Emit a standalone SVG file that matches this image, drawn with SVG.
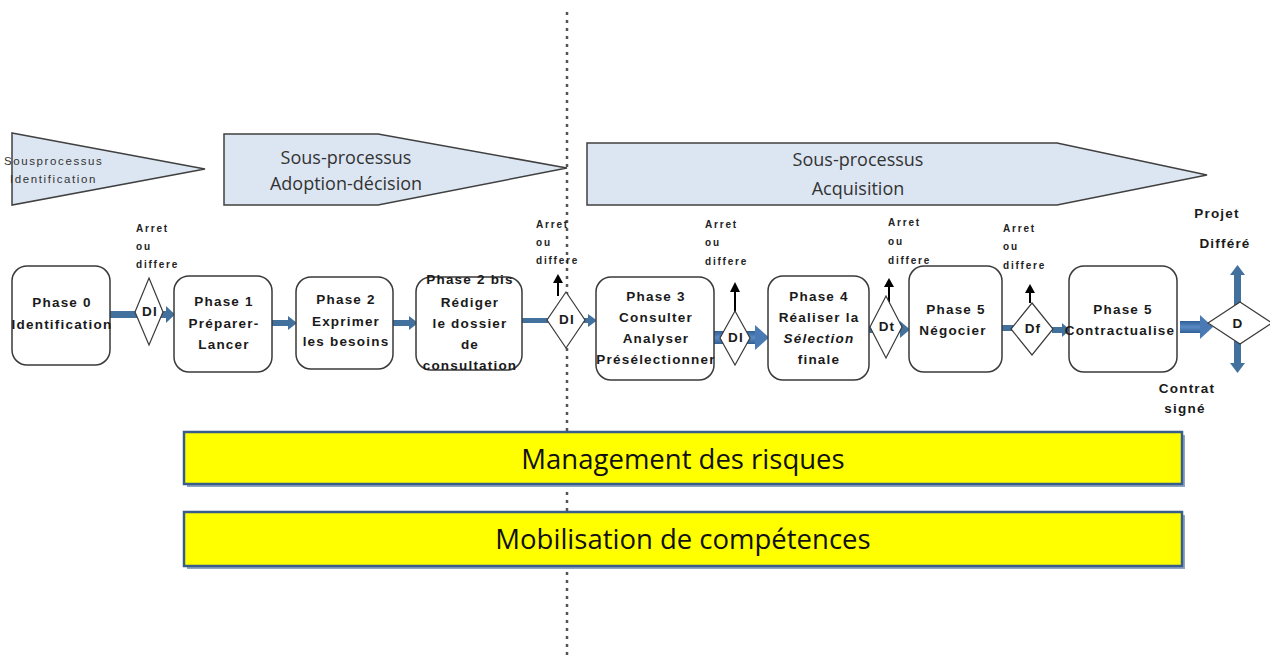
<svg xmlns="http://www.w3.org/2000/svg" width="1270" height="655" viewBox="0 0 1270 655">
<style>
.bg{fill:#ffffff}
.box{fill:#ffffff;stroke:#3a3a3a;stroke-width:1.5}
.dia{fill:#ffffff;stroke:#3a3a3a;stroke-width:1.2}
.pen{fill:#dce6f2;stroke:#404040;stroke-width:1.5}
.bar{fill:#ffff00;stroke:#385d8a;stroke-width:2.5}
.barsh{fill:#8ea5c4}
.t{font-family:"Liberation Sans",Arial,sans-serif;font-weight:bold;font-size:13.5px;fill:#1a1a1a;text-anchor:middle;letter-spacing:1.2px}
.tiny{font-family:"Liberation Sans",Arial,sans-serif;font-weight:bold;font-size:10px;fill:#222;letter-spacing:1.8px}
.pt{font-family:"Open Sans","Liberation Sans",sans-serif;font-size:18px;fill:#333;text-anchor:middle}
.pts{font-family:"Liberation Sans",Arial,sans-serif;font-size:11.5px;fill:#333;letter-spacing:1.6px}
.yt{font-family:"Open Sans","Liberation Sans",sans-serif;font-size:27.5px;fill:#111;text-anchor:middle}
.flow{fill:#41719c}
.blk{stroke:#000;stroke-width:2;fill:none}
</style>
<defs>
<linearGradient id="bg1" x1="0" y1="0" x2="0" y2="1">
<stop offset="0" stop-color="#2f5f96"/><stop offset="0.5" stop-color="#5a8bc4"/><stop offset="1" stop-color="#2f5f96"/>
</linearGradient>
</defs>
<rect class="bg" x="0" y="0" width="1270" height="655"/>

<!-- dotted separator -->
<line x1="567" y1="12" x2="567" y2="655" stroke="#555" stroke-width="2.5" stroke-dasharray="3,5"/>

<!-- pennants -->
<g id="sp-identification">
<polygon class="pen" points="12,133 205,169 12,205"/>
<text class="pts" x="4" y="165">Sousprocessus</text>
<text class="pts" x="10" y="183">Identification</text>
</g>
<g id="sp-adoption">
<polygon class="pen" points="224,134 378,134 567,168 378,205 224,205"/>
<text class="pt" x="346" y="164">Sous-processus</text>
<text class="pt" x="346" y="190">Adoption-décision</text>
</g>
<g id="sp-acquisition">
<polygon class="pen" points="587,143 1057,143 1207,175 1057,205 587,205"/>
<text class="pt" x="858" y="166">Sous-processus</text>
<text class="pt" x="858" y="195">Acquisition</text>
</g>

<!-- connectors -->
<g id="connectors">
<rect class="flow" x="110" y="311" width="58" height="7"/>
<polygon class="flow" points="166,306 175,314.5 166,323"/>
<rect class="flow" x="272" y="320" width="18" height="6"/>
<polygon class="flow" points="288,316 297,323 288,330"/>
<rect class="flow" x="393" y="320" width="18" height="6"/>
<polygon class="flow" points="409,316 418,323 409,330"/>
<rect class="flow" x="522" y="318" width="68" height="5"/>
<polygon class="flow" points="588,314 597,320.5 588,327"/>
<line class="blk" x1="558" y1="296" x2="558" y2="281"/>
<polygon points="553,283 558,274 563,283" fill="#000"/>
<rect x="707" y="331" width="50" height="13" fill="url(#bg1)"/>
<polygon points="755,325 769,337.5 755,350" fill="#4a7ab3"/>
<line class="blk" x1="735" y1="312" x2="735" y2="290"/>
<polygon points="730,292 735,282 740,292" fill="#000"/>
<rect class="flow" x="869" y="326" width="33" height="7"/>
<polygon class="flow" points="900,321 910,329.5 900,338"/>
<line class="blk" x1="889" y1="303" x2="889" y2="285"/>
<polygon points="884,287 889,278 894,287" fill="#000"/>
<rect class="flow" x="1002" y="325" width="14" height="6"/>
<rect class="flow" x="1052" y="327" width="12" height="6"/>
<polygon class="flow" points="1062,323 1070,330 1062,337"/>
<line class="blk" x1="1030" y1="303" x2="1030" y2="291"/>
<polygon points="1025,293 1030,284 1035,293" fill="#000"/>
<rect x="1180" y="321" width="22" height="12" fill="url(#bg1)"/>
<polygon points="1200,315 1213,327 1200,339" fill="#4a7ab3"/>
<rect class="flow" x="1234" y="273" width="7" height="38"/>
<polygon class="flow" points="1230,275 1237.5,265 1245,275"/>
<rect class="flow" x="1234" y="335" width="7" height="30"/>
<polygon class="flow" points="1230,363 1237.5,373 1245,363"/>
</g>

<!-- phase nodes -->
<g id="phase0">
<rect class="box" x="12" y="266" width="98" height="99" rx="15"/>
<text class="t" x="62" y="307">Phase 0</text>
<text class="t" x="62" y="329">Identification</text>
</g>
<g id="d1">
<polygon class="dia" points="149,278 163,312 149,345 135,312"/>
<text class="t" x="150" y="316">DI</text>
<text class="tiny" x="136" y="232">Arret</text>
<text class="tiny" x="136" y="250">ou</text>
<text class="tiny" x="136" y="268">differe</text>
</g>
<g id="phase1">
<rect class="box" x="174" y="276" width="98" height="96" rx="15"/>
<text class="t" x="224" y="306">Phase 1</text>
<text class="t" x="224" y="328">Préparer-</text>
<text class="t" x="224" y="349">Lancer</text>
</g>
<g id="phase2">
<rect class="box" x="296" y="277" width="97" height="92" rx="15"/>
<text class="t" x="346" y="304">Phase 2</text>
<text class="t" x="346" y="326">Exprimer</text>
<text class="t" x="346" y="346">les besoins</text>
</g>
<g id="phase2bis">
<rect class="box" x="416" y="277" width="106" height="93" rx="15"/>
<text class="t" x="470" y="284">Phase 2 bis</text>
<text class="t" x="470" y="307">Rédiger</text>
<text class="t" x="470" y="328">le dossier</text>
<text class="t" x="470" y="349">de</text>
<text class="t" x="470" y="370">consultation</text>
</g>
<g id="d2">
<polygon class="dia" points="566,292 585,320 566,348 547,320"/>
<text class="t" x="567" y="324">DI</text>
<text class="tiny" x="536" y="228">Arret</text>
<text class="tiny" x="536" y="246">ou</text>
<text class="tiny" x="536" y="264">differe</text>
</g>
<g id="phase3">
<rect class="box" x="596" y="277" width="118" height="103" rx="15"/>
<text class="t" x="656" y="301">Phase 3</text>
<text class="t" x="656" y="322">Consulter</text>
<text class="t" x="656" y="343">Analyser</text>
<text class="t" x="656" y="364">Présélectionner</text>
</g>
<g id="d3">
<polygon class="dia" points="735,311 750,338 735,365 720,338"/>
<text class="t" x="736" y="342">DI</text>
<text class="tiny" x="705" y="228">Arret</text>
<text class="tiny" x="705" y="246">ou</text>
<text class="tiny" x="705" y="265">differe</text>
</g>
<g id="phase4">
<rect class="box" x="768" y="276" width="101" height="104" rx="15"/>
<text class="t" x="819" y="301">Phase 4</text>
<text class="t" x="819" y="322">Réaliser la</text>
<text class="t" x="819" y="343" font-style="italic">Sélection</text>
<text class="t" x="819" y="364">finale</text>
</g>
<g id="d4">
<polygon class="dia" points="886,296 902,327 886,358 870,327"/>
<text class="t" x="887" y="331">Dt</text>
<text class="tiny" x="888" y="226">Arret</text>
<text class="tiny" x="888" y="245">ou</text>
<text class="tiny" x="888" y="264">differe</text>
</g>
<g id="phase5a">
<rect class="box" x="909" y="266" width="93" height="106" rx="15"/>
<text class="t" x="956" y="314">Phase  5</text>
<text class="t" x="953" y="335">Négocier</text>
</g>
<g id="d5">
<polygon class="dia" points="1032,303 1053,329 1032,355 1011,329"/>
<text class="t" x="1033" y="333">Df</text>
<text class="tiny" x="1003" y="232">Arret</text>
<text class="tiny" x="1003" y="250">ou</text>
<text class="tiny" x="1003" y="269">differe</text>
</g>
<g id="phase5b">
<rect class="box" x="1069" y="266" width="108" height="106" rx="15"/>
<text class="t" x="1123" y="314">Phase  5</text>
<text class="t" x="1120" y="335">Contractualise</text>
</g>
<g id="dfinal">
<polygon class="dia" points="1240,302 1272,323 1240,344 1208,323"/>
<text class="t" x="1238" y="328" font-size="11">D</text>
<text class="t" x="1217" y="218">Projet</text>
<text class="t" x="1225" y="248">Différé</text>
<text class="t" x="1187" y="393">Contrat</text>
<text class="t" x="1185" y="413">signé</text>
</g>

<!-- yellow bars -->
<g id="risques">
<rect class="barsh" x="187" y="435" width="998" height="52"/>
<rect class="bar" x="184" y="432" width="998" height="52"/>
<text class="yt" x="683" y="469">Management des risques</text>
</g>
<g id="competences">
<rect class="barsh" x="187" y="515" width="998" height="54"/>
<rect class="bar" x="184" y="512" width="998" height="54"/>
<text class="yt" x="683" y="549">Mobilisation de compétences</text>
</g>
</svg>
